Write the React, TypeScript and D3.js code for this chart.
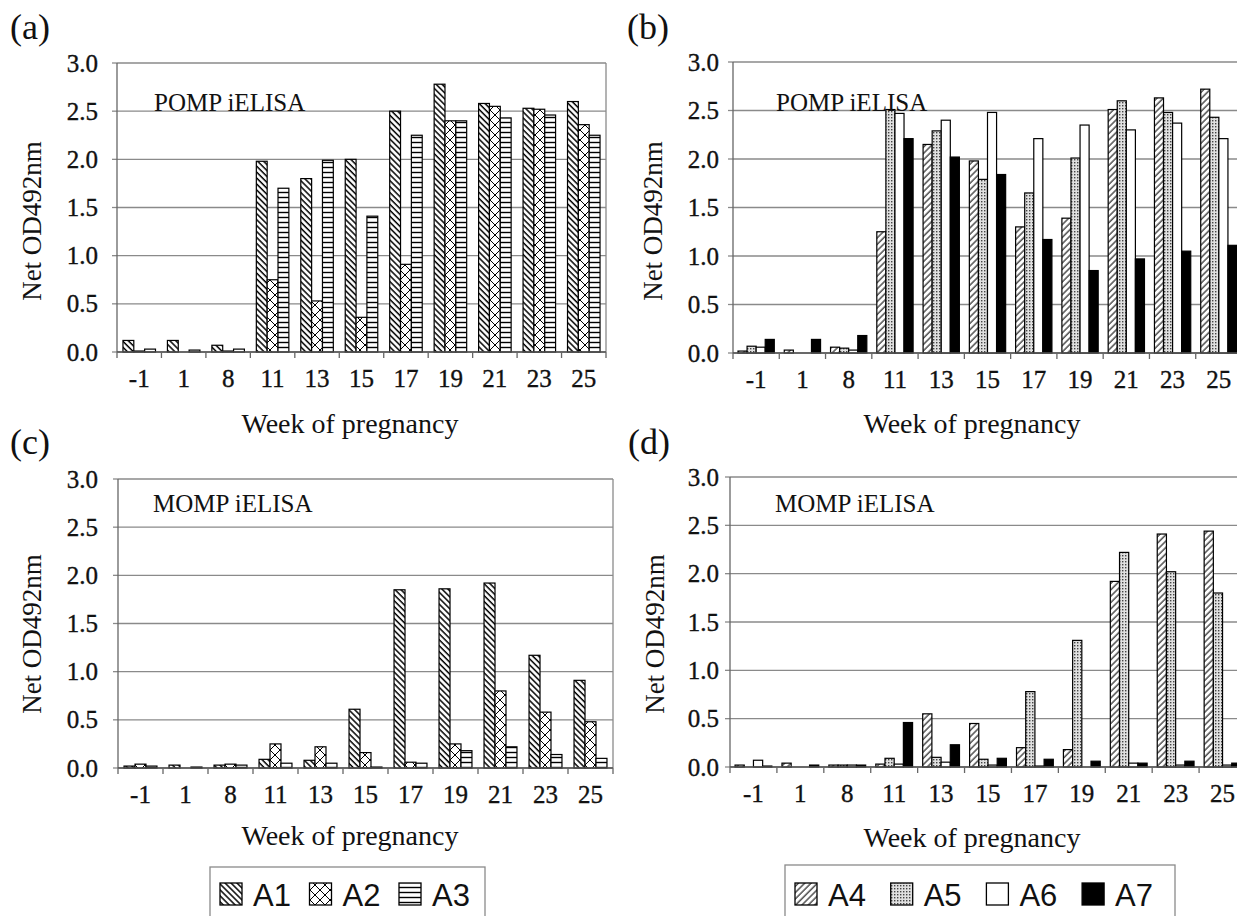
import { useMemo } from "react";
import * as d3 from "d3";

// weeks of pregnancy (x categories)
const WEEKS = ["-1", "1", "8", "11", "13", "15", "17", "19", "21", "23", "25"];
const Y_TICKS = [0, 0.5, 1, 1.5, 2, 2.5, 3];

// POMP iELISA, animals A1-A3
const POMP_A1 = [0.12, 0.12, 0.07, 1.98, 1.8, 2.0, 2.5, 2.78, 2.58, 2.53, 2.6];
const POMP_A2 = [0.01, 0.0, 0.01, 0.75, 0.53, 0.36, 0.91, 2.4, 2.55, 2.52, 2.36];
const POMP_A3 = [0.03, 0.02, 0.03, 1.7, 1.99, 1.41, 2.25, 2.4, 2.43, 2.46, 2.25];

// POMP iELISA, animals A4-A7
const POMP_A4 = [0.02, 0.03, 0.06, 1.25, 2.15, 1.98, 1.3, 1.39, 2.51, 2.63, 2.72];
const POMP_A5 = [0.07, 0.0, 0.05, 2.51, 2.29, 1.79, 1.65, 2.01, 2.6, 2.48, 2.43];
const POMP_A6 = [0.06, 0.0, 0.03, 2.47, 2.4, 2.48, 2.21, 2.35, 2.3, 2.37, 2.21];
const POMP_A7 = [0.14, 0.14, 0.18, 2.21, 2.02, 1.84, 1.17, 0.85, 0.97, 1.05, 1.11];

// MOMP iELISA, animals A1-A3
const MOMP_A1 = [0.02, 0.03, 0.03, 0.09, 0.08, 0.61, 1.85, 1.86, 1.92, 1.17, 0.91];
const MOMP_A2 = [0.04, 0.0, 0.04, 0.25, 0.22, 0.16, 0.06, 0.25, 0.8, 0.58, 0.48];
const MOMP_A3 = [0.02, 0.01, 0.03, 0.05, 0.05, 0.01, 0.05, 0.18, 0.22, 0.14, 0.1];

// MOMP iELISA, animals A4-A7
const MOMP_A4 = [0.02, 0.04, 0.02, 0.03, 0.55, 0.45, 0.2, 0.18, 1.92, 2.41, 2.44];
const MOMP_A5 = [0.0, 0.0, 0.02, 0.09, 0.1, 0.08, 0.78, 1.31, 2.22, 2.02, 1.8];
const MOMP_A6 = [0.07, 0.0, 0.02, 0.03, 0.05, 0.02, 0.01, 0.0, 0.04, 0.02, 0.02];
const MOMP_A7 = [0.01, 0.02, 0.02, 0.46, 0.23, 0.09, 0.08, 0.06, 0.04, 0.06, 0.04];

const SERIES_LEFT = ["A1", "A2", "A3"];
const SERIES_RIGHT = ["A4", "A5", "A6", "A7"];

const SERIF = "Liberation Serif";
const SANS = "Liberation Sans";
const GRID = "#8a8a8a";
const INK = "#111";

const FILL: Record<string, string> = {
  A1: "url(#pA1)",
  A2: "url(#pA2)",
  A3: "url(#pA3)",
  A4: "url(#pA4)",
  A5: "url(#pA5)",
  A6: "#ffffff",
  A7: "#000000",
};

interface Panel {
  tag: string;
  title: string;
  series: string[];
  values: number[][];
  x0: number;
  x1: number;
  y0: number;
  y1: number;
  tagX: number;
  tagY: number;
  yTitleX: number;
  yTitleY: number;
  xTitleX: number;
  xTitleY: number;
  noteX: number;
  noteY: number;
  tickGap: number;
}

const PANELS: Panel[] = [
  {
    tag: "(a)", title: "POMP iELISA", series: SERIES_LEFT, values: [POMP_A1, POMP_A2, POMP_A3],
    x0: 117, x1: 606, y0: 63, y1: 352, tagX: 10, tagY: 27, yTitleX: 32, yTitleY: 221,
    xTitleX: 350, xTitleY: 423, noteX: 154, noteY: 102, tickGap: 19,
  },
  {
    tag: "(b)", title: "POMP iELISA", series: SERIES_RIGHT, values: [POMP_A4, POMP_A5, POMP_A6, POMP_A7],
    x0: 733, x1: 1242, y0: 62, y1: 353, tagX: 627, tagY: 27, yTitleX: 653, yTitleY: 221,
    xTitleX: 972, xTitleY: 423, noteX: 776, noteY: 102, tickGap: 14,
  },
  {
    tag: "(c)", title: "MOMP iELISA", series: SERIES_LEFT, values: [MOMP_A1, MOMP_A2, MOMP_A3],
    x0: 118, x1: 613, y0: 479, y1: 768, tagX: 10, tagY: 442, yTitleX: 32, yTitleY: 634,
    xTitleX: 350, xTitleY: 835, noteX: 153, noteY: 503, tickGap: 20,
  },
  {
    tag: "(d)", title: "MOMP iELISA", series: SERIES_RIGHT, values: [MOMP_A4, MOMP_A5, MOMP_A6, MOMP_A7],
    x0: 730, x1: 1246, y0: 477, y1: 767, tagX: 628, tagY: 442, yTitleX: 655, yTitleY: 634,
    xTitleX: 972, xTitleY: 837, noteX: 775, noteY: 503, tickGap: 11,
  },
];

// slight outline so the text reads as heavy as the scanned original
const TEXT_WEIGHT = { stroke: INK, strokeWidth: 0.35 };

function BarPanel({ p }: { p: Panel }) {
  const x = useMemo(() => d3.scaleBand<string>().domain(WEEKS).range([p.x0, p.x1]), [p]);
  const inner = useMemo(
    () => d3.scaleBand<string>().domain(p.series).range([0, x.bandwidth()]).paddingOuter(0.55),
    [p, x]
  );
  const y = useMemo(() => d3.scaleLinear().domain([0, 3]).range([p.y1, p.y0]), [p]);
  const fmt = d3.format(".1f");

  return (
    <g>
      <text x={p.tagX} y={p.tagY} dominantBaseline="central" fontFamily={SERIF} fontSize={36} fill={INK}>
        {p.tag}
      </text>

      {/* gridlines + y ticks */}
      {Y_TICKS.map((t) => (
        <g key={t}>
          <line x1={p.x0} x2={p.x1} y1={y(t)} y2={y(t)} stroke={GRID} strokeWidth={1.3} />
          <line x1={p.x0 - 5} x2={p.x0} y1={y(t)} y2={y(t)} stroke={GRID} strokeWidth={1.3} />
          <text
            x={p.x0 - p.tickGap}
            y={y(t)}
            textAnchor="end"
            dominantBaseline="central"
            fontFamily={SERIF}
            fontSize={25}
            fill={INK}
            {...TEXT_WEIGHT}
          >
            {fmt(t)}
          </text>
        </g>
      ))}
      {/* right border of plot area */}
      <line x1={p.x1} x2={p.x1} y1={p.y0} y2={p.y1} stroke={GRID} strokeWidth={1.3} />

      {/* bars */}
      {p.series.map((s, si) => (
        <g key={s}>
          {WEEKS.map((w, wi) => {
            const v = p.values[si][wi];
            const bx = (x(w) ?? 0) + (inner(s) ?? 0);
            return (
              <rect
                key={w}
                x={bx}
                y={y(v)}
                width={inner.bandwidth()}
                height={p.y1 - y(v)}
                fill={FILL[s]}
                stroke="#000"
                strokeWidth={1.2}
              />
            );
          })}
        </g>
      ))}

      {/* axes */}
      <line x1={p.x0} x2={p.x0} y1={p.y0} y2={p.y1} stroke="#666" strokeWidth={1.3} />
      <line x1={p.x0} x2={p.x1} y1={p.y1} y2={p.y1} stroke="#555" strokeWidth={1.4} />
      {WEEKS.concat(["end"]).map((w, i) => {
        const tx = i < WEEKS.length ? (x(w) ?? 0) : p.x1;
        return <line key={"t" + i} x1={tx} x2={tx} y1={p.y1} y2={p.y1 + 6} stroke="#666" strokeWidth={1.3} />;
      })}
      {WEEKS.map((w) => (
        <text
          key={"l" + w}
          x={(x(w) ?? 0) + x.bandwidth() / 2}
          y={p.y1 + 26}
          textAnchor="middle"
          dominantBaseline="central"
          fontFamily={SERIF}
          fontSize={25}
          fill={INK}
          {...TEXT_WEIGHT}
        >
          {w}
        </text>
      ))}

      <text x={p.noteX} y={p.noteY} dominantBaseline="central" fontFamily={SERIF} fontSize={25} fill={INK}>
        {p.title}
      </text>
      <text
        x={p.xTitleX}
        y={p.xTitleY}
        textAnchor="middle"
        dominantBaseline="central"
        fontFamily={SERIF}
        fontSize={28}
        fill={INK}
      >
        Week of pregnancy
      </text>
      <text
        transform={`translate(${p.yTitleX},${p.yTitleY}) rotate(-90)`}
        textAnchor="middle"
        dominantBaseline="central"
        fontFamily={SERIF}
        fontSize={27}
        fill={INK}
      >
        Net OD492nm
      </text>
    </g>
  );
}

function Legend({ series, x0, x1, top, step }: { series: string[]; x0: number; x1: number; top: number; step: number }) {
  return (
    <g>
      <rect x={x0} y={top} width={x1 - x0} height={70} fill="#fff" stroke={GRID} strokeWidth={1.3} />
      {series.map((s, i) => {
        const sx = x0 + 10 + i * step;
        return (
          <g key={s}>
            <rect x={sx} y={883} width={22} height={22} fill={FILL[s]} stroke="#000" strokeWidth={1.3} />
            <text x={sx + 33} y={895} dominantBaseline="central" fontFamily={SANS} fontSize={31} fill={INK}>
              {s}
            </text>
          </g>
        );
      })}
    </g>
  );
}

export default function App() {
  return (
    <div style={{ position: "absolute", left: 0, top: 0 }}>
      <svg width={1237} height={916} viewBox="0 0 1237 916" style={{ display: "block", background: "#fff" }}>
        <defs>
          <pattern id="pA1" width={4.2} height={10} patternUnits="userSpaceOnUse" patternTransform="rotate(-45)">
            <rect width={4.2} height={10} fill="#fff" />
            <line x1={1} x2={1} y1={0} y2={10} stroke="#000" strokeWidth={1.5} />
          </pattern>
          <pattern id="pA2" width={10} height={10} patternUnits="userSpaceOnUse">
            <rect width={10} height={10} fill="#fff" />
            <path d="M0,0 L10,10 M10,0 L0,10" stroke="#000" strokeWidth={1} />
          </pattern>
          <pattern id="pA3" width={10} height={5} patternUnits="userSpaceOnUse">
            <rect width={10} height={5} fill="#fff" />
            <line x1={0} x2={10} y1={2.5} y2={2.5} stroke="#000" strokeWidth={1.4} />
          </pattern>
          <pattern id="pA4" width={4.5} height={10} patternUnits="userSpaceOnUse" patternTransform="rotate(45)">
            <rect width={4.5} height={10} fill="#fff" />
            <line x1={1} x2={1} y1={0} y2={10} stroke="#222" strokeWidth={1.2} />
          </pattern>
          <pattern id="pA5" width={3} height={3} patternUnits="userSpaceOnUse">
            <rect width={3} height={3} fill="#e0e0e0" />
            <rect width={1.4} height={1.4} fill="#444" />
          </pattern>
        </defs>
        {PANELS.map((p) => (
          <BarPanel key={p.tag} p={p} />
        ))}
        <Legend series={SERIES_LEFT} x0={210} x1={485} top={867} step={89.5} />
        <Legend series={SERIES_RIGHT} x0={785} x1={1175} top={865} step={95.7} />
      </svg>
    </div>
  );
}
